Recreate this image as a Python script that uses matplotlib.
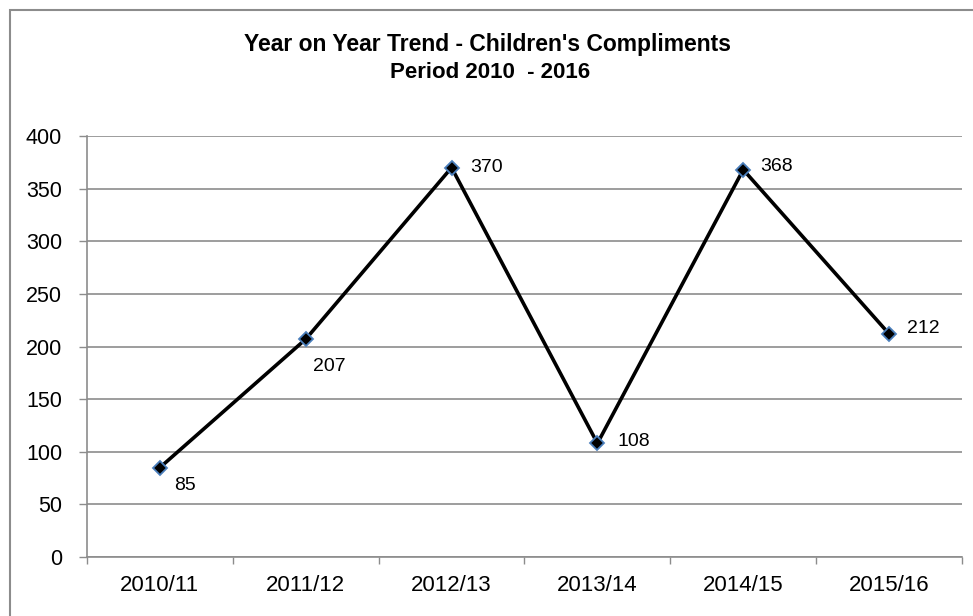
import matplotlib
matplotlib.use("Agg")
from matplotlib import pyplot as plt
from matplotlib.patches import Rectangle

plt.rcParams['font.family'] = ['Liberation Sans', 'DejaVu Sans']

years = ["2010/11", "2011/12", "2012/13", "2013/14", "2014/15", "2015/16"]
compliments = [85, 207, 370, 108, 368, 212]
# label offsets in points (dx, dy)
label_offsets = [(18, -13), (17, -20), (25, 0), (26, 1), (24, 2), (25, 4)]

fig = plt.figure(figsize=(9.73, 6.16), dpi=100)
fig.patches.append(Rectangle((10 / 973, -0.1), 1.2, (616 - 10) / 616 + 0.1,
                             transform=fig.transFigure, fill=False,
                             edgecolor='#8c8c8c', linewidth=1.5))
ax = fig.add_axes([87 / 973, 59 / 616, (962 - 87) / 973, (557 - 136) / 616])

x = list(range(len(years)))
ax.plot(x, compliments, color='black', linewidth=2.6, marker='D',
        markersize=7, markerfacecolor='black', markeredgecolor='#4a7ebb',
        markeredgewidth=1.3, zorder=3)
for xi, v, (dx, dy) in zip(x, compliments, label_offsets):
    ax.annotate(str(v), (xi, v), xytext=(dx, dy), textcoords='offset points',
                ha='center', va='center', fontsize=14)

ax.set_xlim(-0.5, len(years) - 0.5)
ax.set_ylim(0, 400)
ax.set_yticks(range(0, 401, 50))
ax.set_xticks(x)
ax.set_xticklabels(years)
ax.set_xticks([i - 0.5 for i in range(len(years) + 1)], minor=True)
ax.tick_params(axis='x', which='major', length=0, pad=13, labelsize=16)
ax.tick_params(axis='x', which='minor', length=5, color='#8c8c8c', width=1)
ax.tick_params(axis='y', length=6, color='#8c8c8c', width=1, labelsize=15.5, pad=12)
ax.grid(axis='y', color='#8c8c8c', linewidth=1.2)
ax.set_axisbelow(True)
for side in ['top', 'right']:
    ax.spines[side].set_visible(False)
ax.spines['left'].set_color('#8c8c8c')
ax.spines['bottom'].set_color('#8c8c8c')
ax.spines['left'].set_linewidth(1.2)
ax.spines['bottom'].set_linewidth(1.2)

fig.text(487 / 973, 1 - 45 / 616, "Year on Year Trend - Children's Compliments",
         ha='center', va='center', fontsize=16.5, fontweight='bold')
fig.text(490 / 973, 1 - 73 / 616, "Period 2010  - 2016",
         ha='center', va='center', fontsize=16, fontweight='bold')

plt.savefig("out.png", dpi=100)
